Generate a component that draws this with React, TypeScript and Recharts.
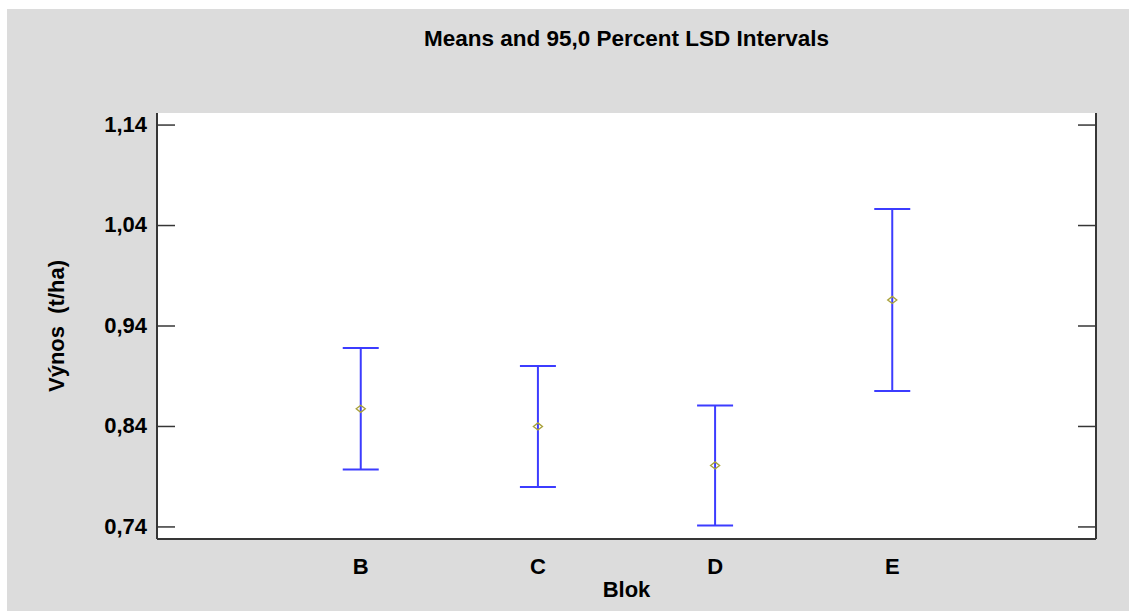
import {
  CartesianGrid,
  ErrorBar,
  Scatter,
  ScatterChart,
  XAxis,
  YAxis,
} from 'recharts'

// Blocks with their mean yield and 95% LSD half-width
const blocks = ['B', 'C', 'D', 'E']
const means = [0.8576, 0.84, 0.8012, 0.9659]
const lsdHalf = [0.0604, 0.0603, 0.0597, 0.0906]
const yTicks = [0.74, 0.84, 0.94, 1.04, 1.14]

const data = blocks.map((name, i) => ({ x: i + 1, name, mean: means[i], err: lsdHalf[i] }))

const FONT = '"Liberation Sans", Arial, sans-serif'
const FRAME = '#363636'
const BAR = '#3c3cff'
const MARK = '#a9a13a'
const TICK_LEN = 18
const LABEL_SIZE = 22

const fmt = (v: number) => v.toFixed(2).replace('.', ',')

function LeftTick(props: any) {
  const { x, y, payload } = props
  const axisX = x + 10
  return (
    <g>
      <line x1={axisX} x2={axisX + TICK_LEN} y1={y} y2={y} stroke={FRAME} strokeWidth={1.5} />
      <text
        x={x}
        y={y}
        dy="0.3em"
        textAnchor="end"
        fontSize={LABEL_SIZE}
        fontWeight="bold"
        fill="#000"
        fontFamily={FONT}
      >
        {fmt(payload.value)}
      </text>
    </g>
  )
}

function RightTick(props: any) {
  const { x, y } = props
  return <line x1={x - TICK_LEN} x2={x} y1={y} y2={y} stroke={FRAME} strokeWidth={1.5} />
}

function Diamond(props: any) {
  const { cx, cy } = props
  return (
    <path
      d={`M${cx - 4.5},${cy} L${cx},${cy - 3.5} L${cx + 4.5},${cy} L${cx},${cy + 3.5} Z`}
      fill="none"
      stroke={MARK}
      strokeWidth={1.4}
    />
  )
}

export default function App() {
  return (
    <div
      style={{
        position: 'absolute',
        left: 7,
        top: 9,
        width: 1122,
        height: 602,
        background: '#dcdcdc',
        fontFamily: FONT,
      }}
    >
      <div
        style={{
          position: 'absolute',
          left: 150,
          width: 939,
          top: 19,
          textAlign: 'center',
          fontSize: 22.5,
          lineHeight: '22px',
          fontWeight: 'bold',
          color: '#000',
        }}
      >
        Means and 95,0 Percent LSD Intervals
      </div>
      <ScatterChart
        width={1122}
        height={602}
        margin={{ top: 104, right: 0, bottom: 12, left: 0 }}
        style={{ fontFamily: FONT }}
      >
        <CartesianGrid fill="#ffffff" horizontal={false} vertical={false} />
        <XAxis
          dataKey="x"
          type="number"
          domain={[-0.15, 5.15]}
          ticks={[1, 2, 3, 4]}
          interval={0}
          tickFormatter={(v: number) => blocks[v - 1] ?? ''}
          allowDataOverflow
          height={60}
          tickLine={false}
          tickMargin={13}
          axisLine={{ stroke: FRAME, strokeWidth: 2 }}
          tick={{ fontSize: LABEL_SIZE, fontWeight: 'bold', fill: '#000' }}
          label={{
            value: 'Blok',
            position: 'insideBottom',
            offset: 2,
            fontSize: LABEL_SIZE,
            fontWeight: 'bold',
            fill: '#000',
          }}
        />
        <XAxis
          xAxisId="top"
          orientation="top"
          type="number"
          domain={[0, 1]}
          height={0}
          tick={false}
          tickLine={false}
          axisLine={{ stroke: FRAME, strokeWidth: 2 }}
        />
        <YAxis
          dataKey="mean"
          type="number"
          domain={[0.728, 1.152]}
          ticks={yTicks}
          interval={0}
          allowDataOverflow
          width={150}
          tickSize={0}
          tickMargin={10}
          tickLine={false}
          axisLine={{ stroke: FRAME, strokeWidth: 2 }}
          tick={<LeftTick />}
          label={{
            value: 'Výnos\u00a0\u00a0(t/ha)',
            angle: -90,
            position: 'center',
            dx: -26,
            fontSize: LABEL_SIZE,
            fontWeight: 'bold',
            fill: '#000',
          }}
        />
        <YAxis
          yAxisId="right"
          orientation="right"
          type="number"
          domain={[0.728, 1.152]}
          ticks={yTicks}
          interval={0}
          allowDataOverflow
          width={33}
          tickSize={0}
          tickMargin={0}
          tickLine={false}
          axisLine={{ stroke: FRAME, strokeWidth: 2 }}
          tick={<RightTick />}
        />
        <Scatter data={data} dataKey="mean" shape={<Diamond />} isAnimationActive={false}>
          <ErrorBar dataKey="err" direction="y" width={18} stroke={BAR} strokeWidth={2} isAnimationActive={false} />
        </Scatter>
      </ScatterChart>
    </div>
  )
}
